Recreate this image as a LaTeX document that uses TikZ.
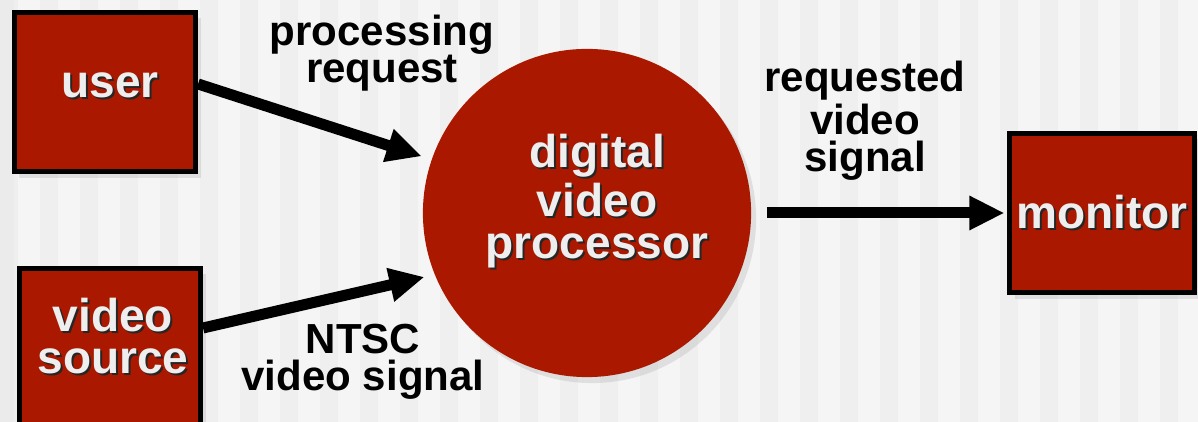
\documentclass[tikz,border=0pt]{standalone}
\usepackage{fontspec}
\setmainfont{Liberation Sans}
\usetikzlibrary{shadows,arrows.meta}
\definecolor{boxred}{RGB}{170,24,0}
\definecolor{paper}{RGB}{245,245,245}
\definecolor{stripe}{RGB}{239,239,239}
\definecolor{letter}{RGB}{238,238,238}
% white word with a dark shadow behind it
\newcommand{\shword}[1]{\makebox[0pt][l]{\kern0.02cm\raisebox{-0.02cm}{\textcolor{black!85}{#1}}}#1}
\tikzset{
  unit/.style={draw=black, line width=0.05cm, fill=boxred,
    minimum width=1.81cm, minimum height=1.59cm, inner sep=0pt,
    drop shadow={shadow xshift=0.05cm, shadow yshift=-0.06cm, opacity=0.18}},
  proc/.style={circle, fill=boxred, minimum size=3.28cm, inner sep=0pt,
    drop shadow={shadow xshift=0.05cm, shadow yshift=-0.06cm, opacity=0.18}},
  txt/.style={text=letter, align=center, inner sep=0pt,
    font=\bfseries\fontsize{0.46cm}{0.42cm}\selectfont},
  flow/.style={-{Triangle[length=0.35cm, width=0.32cm]}, line width=0.11cm},
  lbl/.style={align=center, inner sep=0pt,
    font=\bfseries\fontsize{0.42cm}{0.37cm}\selectfont}
}
\begin{document}
\begin{tikzpicture}[x=0.01cm, y=-0.01cm]
  \useasboundingbox (0, 0) rectangle (1198, 422);
  \clip (0, 0) rectangle (1198, 422);

  % background
  \fill [paper] (0, 0) rectangle (1198, 422);
  \foreach \s in {0, 40, ..., 1160}
    \fill [stripe] (\s, 0) rectangle (\s + 18, 422);
  \fill [black!8] (0, 0) rectangle (14, 422);

  % user
  \node [unit] (user) at (105, 92) {};
  \node [txt] (usertxt) at (110, 86) {\shword{user}};

  % video source
  \node [unit] (vsrc) at (110, 348) {};
  \node [txt] (vsrctxt) at (113, 337) {\shword{video}\\\shword{source}};

  % digital video processor
  \node [proc] (dvp) at (587, 213) {};
  \node [txt] (dvptxt) at (597, 202) {\shword{digital}\\\shword{video}\\\shword{processor}};

  % monitor
  \node [unit, minimum width=1.84cm] (mon) at (1102, 213) {};
  \node [txt] (montxt) at (1102, 213) {\shword{monitor}};

  % flows
  \draw [flow, shorten >=0.1cm] ([yshift=0.08cm]user.east) -- (dvp.161);
  \draw [flow, shorten >=0.1cm] ([yshift=0.2cm]vsrc.east) -- (dvp.202);
  \draw [flow, shorten <=0.15cm, shorten >=0.03cm] (dvp.east) -- (mon.west);

  % flow labels
  \node [lbl] (reqlbl) at (382, 53) {processing\\request};
  \node [lbl] (ntsclbl) at (363, 362) {NTSC\\video signal};
  \node [lbl] (outlbl) at (865, 121) {requested\\video\\signal};
\end{tikzpicture}
\end{document}
